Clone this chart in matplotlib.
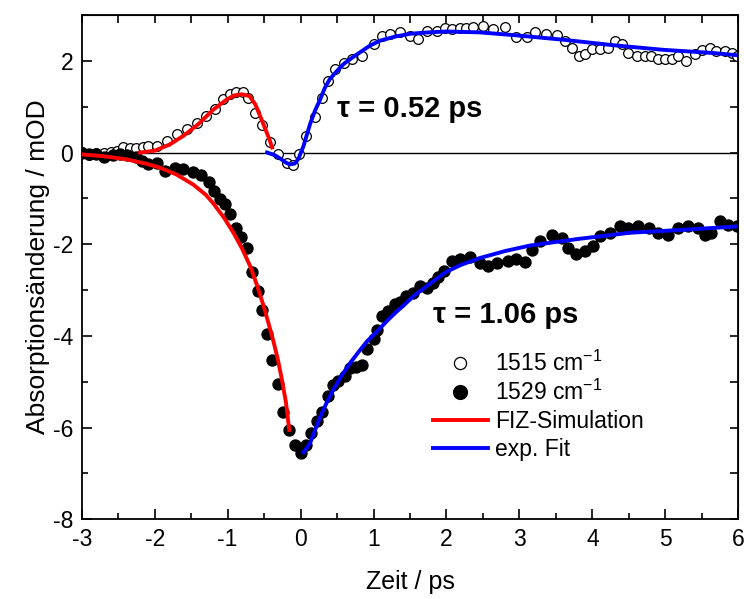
import matplotlib
matplotlib.use("Agg")
import matplotlib.pyplot as plt
from matplotlib.ticker import MultipleLocator

plt.rcParams['font.family'] = ['Liberation Sans', 'DejaVu Sans']
plt.rcParams['mathtext.fontset'] = 'custom'
plt.rcParams['mathtext.rm'] = 'Liberation Sans'
plt.rcParams['axes.unicode_minus'] = False

# ---- data: 1515 cm-1 (open circles) ----
t_1515 = [-3.00, -2.90, -2.80, -2.70, -2.60, -2.52, -2.43, -2.34, -2.25, -2.16, -2.09, -1.97,
          -1.83, -1.70, -1.56, -1.42, -1.29, -1.17, -1.06, -0.97, -0.88, -0.79, -0.72, -0.62,
          -0.53, -0.42, -0.31, -0.19, -0.10, -0.02, 0.08, 0.20, 0.29, 0.38, 0.47, 0.59, 0.70,
          0.84, 1.00, 1.11, 1.23, 1.36, 1.50, 1.61, 1.73, 1.87, 1.98, 2.08, 2.18, 2.27, 2.37,
          2.50, 2.64, 2.80, 2.96, 3.10, 3.21, 3.37, 3.51, 3.62, 3.72, 3.81, 3.90, 3.99, 4.10,
          4.22, 4.31, 4.40, 4.49, 4.61, 4.72, 4.81, 4.90, 4.99, 5.09, 5.18, 5.29, 5.41, 5.50,
          5.61, 5.70, 5.82, 5.91, 5.98]
v_1515 = [0.02, -0.06, 0.00, -0.02, 0.02, 0.03, 0.12, 0.09, 0.10, 0.12, 0.14, 0.14,
          0.25, 0.40, 0.51, 0.65, 0.80, 0.94, 1.16, 1.27, 1.32, 1.32, 1.20, 0.87,
          0.59, 0.22, -0.04, -0.22, -0.27, -0.04, 0.36, 0.78, 1.20, 1.56, 1.82, 1.96, 2.04,
          2.11, 2.36, 2.55, 2.58, 2.62, 2.55, 2.47, 2.66, 2.66, 2.71, 2.70, 2.71, 2.72, 2.73,
          2.76, 2.69, 2.73, 2.53, 2.51, 2.63, 2.58, 2.56, 2.44, 2.29, 2.11, 2.15, 2.26, 2.26,
          2.27, 2.44, 2.36, 2.18, 2.11, 2.10, 2.10, 2.04, 2.04, 2.05, 2.11, 2.00, 2.15, 2.24,
          2.29, 2.22, 2.22, 2.18, 2.11]

# ---- data: 1529 cm-1 (filled circles) ----
t_1529 = [-3.00, -2.90, -2.80, -2.70, -2.57, -2.48, -2.38, -2.25, -2.17, -2.09, -1.97, -1.86,
          -1.72, -1.61, -1.47, -1.36, -1.26, -1.19, -1.10, -1.04, -0.97, -0.89, -0.81, -0.74,
          -0.67, -0.59, -0.53, -0.46, -0.39, -0.31, -0.24, -0.155, -0.08, 0.00, 0.08, 0.14,
          0.22, 0.29, 0.37, 0.44, 0.52, 0.61, 0.68, 0.76, 0.84, 0.91, 1.00, 1.05, 1.11, 1.20,
          1.29, 1.36, 1.45, 1.54, 1.64, 1.73, 1.82, 1.89, 1.96, 2.07, 2.19, 2.32, 2.46, 2.57,
          2.69, 2.85, 2.96, 3.08, 3.17, 3.28, 3.44, 3.58, 3.67, 3.78, 3.90, 4.01, 4.10, 4.24,
          4.38, 4.49, 4.63, 4.77, 4.90, 5.04, 5.18, 5.31, 5.45, 5.54, 5.63, 5.75, 5.86, 5.98]
v_1529 = [-0.02, -0.03, -0.04, -0.09, -0.05, -0.04, -0.05, -0.10, -0.18, -0.26, -0.22, -0.40,
          -0.33, -0.37, -0.43, -0.50, -0.64, -0.84, -1.02, -1.13, -1.35, -1.64, -1.84, -2.08,
          -2.61, -3.03, -3.44, -3.95, -4.53, -5.04, -5.65, -6.06, -6.38, -6.56, -6.38, -6.12,
          -5.85, -5.65, -5.32, -5.07, -4.99, -4.88, -4.70, -4.67, -4.63, -4.29, -4.07, -3.86,
          -3.57, -3.46, -3.30, -3.25, -3.12, -3.06, -2.92, -2.95, -2.84, -2.72, -2.59, -2.37,
          -2.33, -2.28, -2.41, -2.48, -2.41, -2.37, -2.32, -2.39, -2.12, -1.93, -1.79, -1.86,
          -2.08, -2.22, -2.15, -2.04, -1.82, -1.75, -1.61, -1.64, -1.61, -1.64, -1.75, -1.79,
          -1.64, -1.61, -1.64, -1.79, -1.75, -1.50, -1.57, -1.61]

# ---- FIZ simulation (red) ----
t_sim_1515 = [-2.2, -2.0, -1.8, -1.6, -1.4, -1.2, -1.0, -0.9, -0.8, -0.7, -0.62, -0.55, -0.48, -0.43, -0.39]
v_sim_1515 = [0.0, 0.04, 0.17, 0.37, 0.62, 0.93, 1.17, 1.25, 1.27, 1.23, 1.05, 0.78, 0.50, 0.30, 0.11]
t_sim_1529 = [-3.0, -2.7, -2.38, -2.1, -1.93, -1.7, -1.47, -1.3, -1.2, -1.05, -0.92, -0.8,
              -0.69, -0.6, -0.51, -0.44, -0.37, -0.31, -0.26, -0.2, -0.155]
v_sim_1529 = [-0.04, -0.08, -0.15, -0.25, -0.33, -0.48, -0.70, -0.92, -1.10, -1.42, -1.75, -2.1,
              -2.48, -2.88, -3.33, -3.72, -4.13, -4.52, -4.92, -5.45, -6.05]

# ---- exp. fit (blue) ----
t_fit_1515 = [-0.46, -0.35, -0.28, -0.2, -0.145, -0.08, -0.03, 0.04, 0.13, 0.2, 0.27, 0.33, 0.40,
              0.5, 0.59, 0.7, 0.81, 0.95, 1.09, 1.3, 1.5, 1.75, 2.0, 2.46, 3.0, 3.6, 4.29, 4.97,
              5.66, 6.0]
v_fit_1515 = [0.0, -0.06, -0.13, -0.22, -0.26, -0.24, -0.14, 0.14, 0.62, 0.92, 1.16, 1.40, 1.60,
              1.78, 1.93, 2.06, 2.18, 2.33, 2.44, 2.53, 2.59, 2.62, 2.64, 2.62, 2.55, 2.46, 2.34,
              2.24, 2.17, 2.12]
t_fit_1529 = [0.04, 0.13, 0.2, 0.27, 0.36, 0.45, 0.56, 0.68, 0.8, 0.91, 1.05, 1.18, 1.31, 1.45,
              1.54, 1.7, 1.91, 2.0, 2.2, 2.46, 2.8, 3.14, 3.5, 3.83, 4.2, 4.51, 4.85, 5.2, 5.6, 6.0]
v_fit_1529 = [-6.54, -6.34, -6.05, -5.76, -5.45, -5.17, -4.87, -4.59, -4.34, -4.12, -3.9, -3.68,
              -3.48, -3.28, -3.14, -2.95, -2.70, -2.60, -2.45, -2.3, -2.15, -2.03, -1.95, -1.88,
              -1.81, -1.75, -1.72, -1.69, -1.65, -1.61]

x_ticks = [-3, -2, -1, 0, 1, 2, 3, 4, 5, 6]
y_ticks = [-8, -6, -4, -2, 0, 2]

fig = plt.figure(figsize=(7.44, 5.99), dpi=100)
ax = fig.add_axes([0.1098, 0.133, 0.8825, 0.842])

ax.axhline(0, color='black', lw=1.0, zorder=1)

ax.plot(t_1515, v_1515, 'o', ms=7, mfc='white', mec='black', mew=0.9, zorder=2,
        label='1515 cm$^{\\mathregular{-1}}$')
ax.plot(t_1529, v_1529, 'o', ms=8, mfc='black', mec='black', mew=0.9, zorder=2,
        label='1529 cm$^{\\mathregular{-1}}$')
ax.plot(t_sim_1515, v_sim_1515, '-', color='#ff0000', lw=2.8, zorder=3, label='FIZ-Simulation')
ax.plot(t_sim_1529, v_sim_1529, '-', color='#ff0000', lw=2.8, zorder=3)
ax.plot(t_fit_1515, v_fit_1515, '-', color='#0000ff', lw=2.8, zorder=3, label='exp. Fit')
ax.plot(t_fit_1529, v_fit_1529, '-', color='#0000ff', lw=2.8, zorder=3)

ax.set_xlim(-3, 6)
ax.set_ylim(-8, 3)
ax.set_xticks(x_ticks)
ax.set_yticks(y_ticks)
ax.xaxis.set_minor_locator(MultipleLocator(0.5))
ax.yaxis.set_minor_locator(MultipleLocator(1))
ax.tick_params(which='major', direction='in', length=7, width=1.2, labelsize=16.5, pad=6)
ax.tick_params(which='minor', direction='in', length=4.5, width=1.2)
for s in ax.spines.values():
    s.set_linewidth(1.3)

# top and right ticks
secx = ax.secondary_xaxis('top')
secx.xaxis.set_major_locator(MultipleLocator(0.5))
secx.tick_params(direction='in', length=6, width=1.2, labeltop=False)
secy = ax.secondary_yaxis('right')
secy.yaxis.set_major_locator(MultipleLocator(1))
secy.tick_params(direction='in', length=6, width=1.2, labelright=False)

ax.set_xlabel('Zeit / ps', fontsize=18, labelpad=14)
ax.set_ylabel('Absorptionsänderung / mOD', fontsize=19, labelpad=2)

ax.text(0.495, 0.94, 'τ = 0.52 ps', fontsize=21, fontweight='bold', ha='left', va='center')
ax.text(1.82, -3.54, 'τ = 1.06 ps', fontsize=21, fontweight='bold', ha='left', va='center')

leg = ax.legend(loc='upper left', bbox_to_anchor=(0.535, 0.335), frameon=False,
                fontsize=16.5, handlelength=2.4, handletextpad=0.3, labelspacing=0.2,
                borderpad=0, borderaxespad=0, markerscale=1.25)

fig.savefig('out.png', dpi=100)
